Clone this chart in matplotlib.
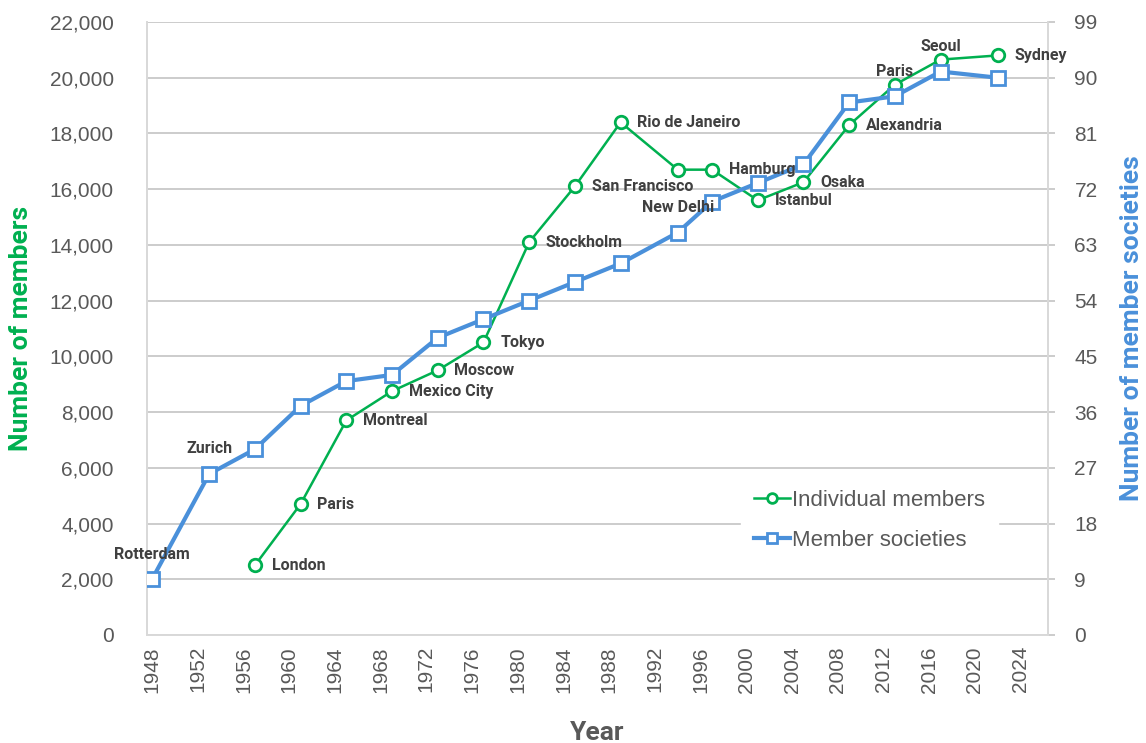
import matplotlib.pyplot as plt
from matplotlib.ticker import FuncFormatter, MultipleLocator

# Individual members (left axis)
member_years = [1957, 1961, 1965, 1969, 1973, 1977, 1981, 1985, 1989, 1994,
                1997, 2001, 2005, 2009, 2013, 2017, 2022]
members = [2500, 4700, 7700, 8750, 9500, 10500, 14100, 16100, 18400, 16700,
           16700, 15600, 16250, 18300, 19750, 20650, 20800]
member_cities = ['London', 'Paris', 'Montreal', 'Mexico City', 'Moscow', 'Tokyo',
                 'Stockholm', 'San Francisco', 'Rio de Janeiro', '',
                 'Hamburg', 'Istanbul', 'Osaka', 'Alexandria', '', '', 'Sydney']

# Member societies (right axis)
society_years = [1948, 1953, 1957, 1961, 1965, 1969, 1973, 1977, 1981, 1985, 1989,
                 1994, 1997, 2001, 2005, 2009, 2013, 2017, 2022]
societies = [9, 26, 30, 37, 41, 42, 48, 51, 54, 57, 60,
             65, 70, 73, 76, 86, 87, 91, 90]
society_cities = ['Rotterdam', 'Zurich', '', '', '', '', '', '', '', '', '',
                  'New Delhi', '', '', '', '', 'Paris', 'Seoul', '']

green = '#00B050'
blue = '#4A90DA'
tick_gray = '#595959'
label_gray = '#404040'
grid_gray = '#C8C8C8'
spine_gray = '#D9D9D9'

plt.rcParams['font.family'] = ['Liberation Sans', 'DejaVu Sans']

fig = plt.figure(figsize=(11.46, 7.43), dpi=100)
ax = fig.add_axes([0.1283, 0.1454, 0.9145 - 0.1283, 0.9704 - 0.1454])
ax2 = ax.twinx()

ax.set_xlim(1947.56, 2026.4)
ax.set_ylim(0, 22000)
ax2.set_ylim(0, 99)

ax.set_xticks(range(1948, 2025, 4))
ax.yaxis.set_major_locator(MultipleLocator(2000))
ax2.yaxis.set_major_locator(MultipleLocator(9))
ax.yaxis.set_major_formatter(FuncFormatter(lambda v, p: f'{int(v):,}'))

ax.grid(axis='y', color=grid_gray, linewidth=1.3, zorder=0)
ax.set_axisbelow(True)

for a in (ax, ax2):
    for s in a.spines.values():
        s.set_color(spine_gray)
        s.set_linewidth(1.3)
    a.spines['top'].set_visible(False)

ax.tick_params(axis='x', length=0, pad=8, labelsize=15, labelcolor=tick_gray, labelrotation=90)
ax.tick_params(axis='y', length=0, pad=24, labelsize=15, labelcolor=tick_gray)
ax2.tick_params(axis='y', length=5, width=1.3, color=grid_gray, pad=14,
                labelsize=15, labelcolor=tick_gray)

l1, = ax.plot(member_years, members, color=green, linewidth=1.8, marker='o',
              markersize=9, markerfacecolor='white', markeredgewidth=2,
              markeredgecolor=green, label='Individual members', zorder=3)
l2, = ax2.plot(society_years, societies, color=blue, linewidth=3, marker='s',
               markersize=10, markerfacecolor='white', markeredgewidth=2,
               markeredgecolor=blue, label='Member societies', zorder=3)

# Green series: labels to the right
for x, y, name in zip(member_years, members, member_cities):
    if name:
        ax2.annotate(name, (x, y), xycoords=ax.transData, xytext=(12, 0),
                     textcoords='offset points', ha='left', va='center',
                     fontsize=11.5, fontweight='bold', color=label_gray,
                     family='Roboto', zorder=10)

# Blue series: labels above
for x, y, name in zip(society_years, societies, society_cities):
    if name:
        ax2.annotate(name, (x, y), xytext=(0, 18), textcoords='offset points',
                     ha='center', va='center', fontsize=11.5, fontweight='bold',
                     color=label_gray, family='Roboto', zorder=10)

ax.set_xlabel('Year', fontsize=19, fontweight='bold', color=tick_gray,
              family='Roboto', labelpad=20)
ax.set_ylabel('Number of members', fontsize=19, fontweight='bold', color=green,
              family='Roboto', labelpad=12)
ax2.set_ylabel('Number of member societies', fontsize=19, fontweight='bold',
               color=blue, family='Roboto', labelpad=16)

leg = ax2.legend(handles=[l1, l2], loc='lower right', bbox_to_anchor=(0.957, 0.097),
                 fontsize=16, frameon=True, framealpha=1, edgecolor='white',
                 handlelength=1.6, handletextpad=0.1, borderpad=0.6,
                 labelspacing=0.85, fancybox=False)
for t in leg.get_texts():
    t.set_color(tick_gray)
for h in leg.legend_handles:
    h.set_markersize(7)

# blue line on top of green
ax.set_zorder(0)
ax2.set_zorder(1)
ax2.patch.set_visible(False)
ax.patch.set_facecolor('white')

fig.savefig('out.png', dpi=100)
